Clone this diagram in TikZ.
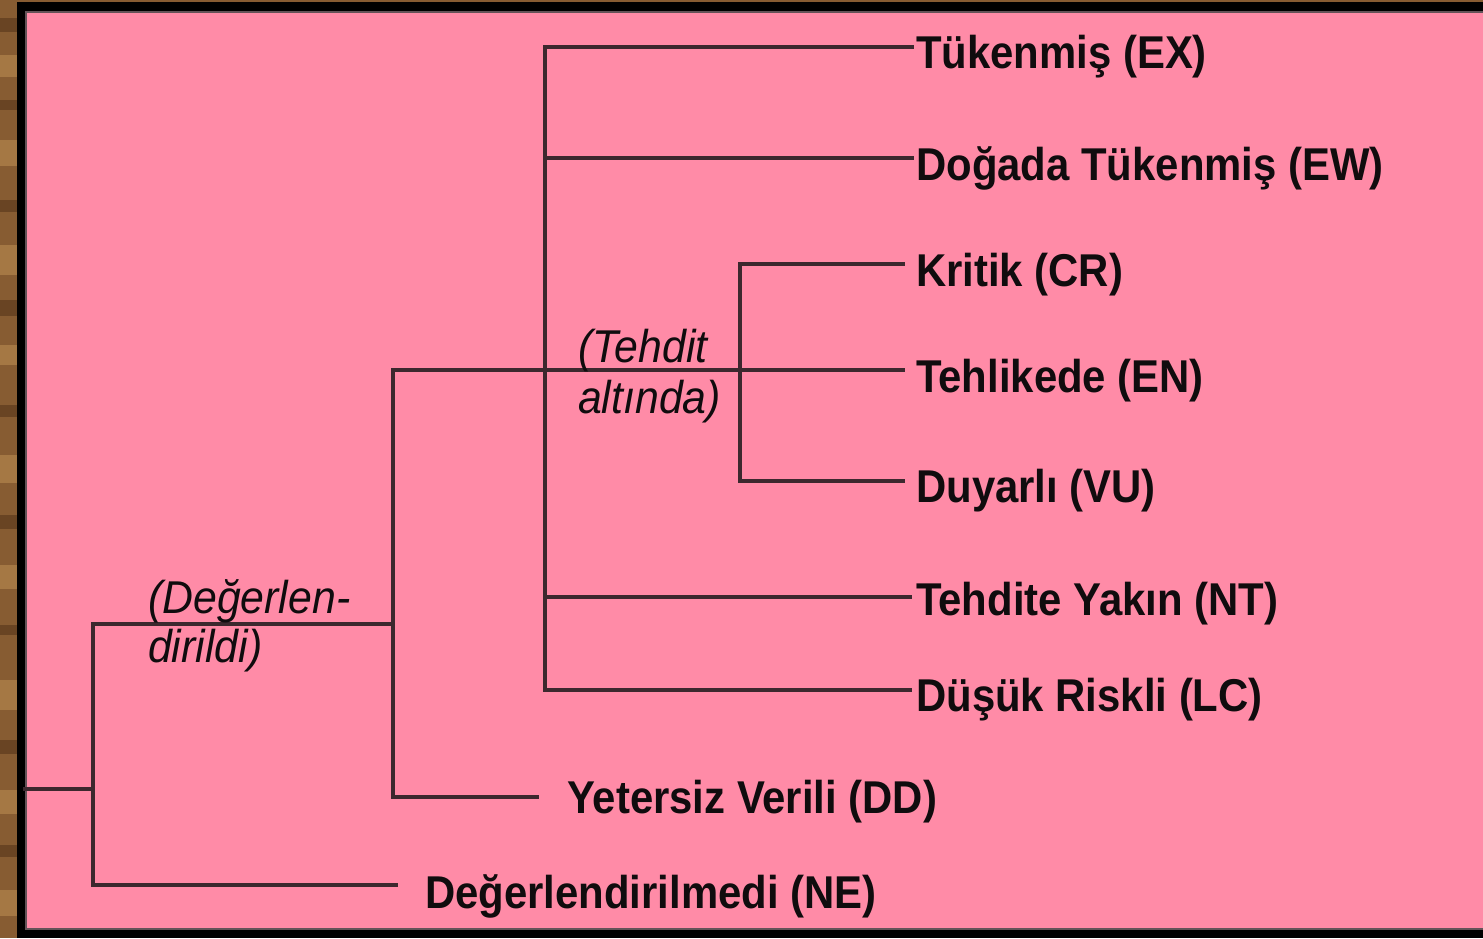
\documentclass[tikz,border=0pt]{standalone}
\usepackage{fontspec}
\newfontfamily\labfont[FakeStretch=0.91]{Liberation Sans}
\newfontfamily\itfont[FakeStretch=0.93]{Liberation Sans}
\definecolor{pinkbg}{RGB}{255,139,167}
\definecolor{linec}{RGB}{60,40,46}
\definecolor{wood}{RGB}{135,92,50}
\definecolor{woodd}{RGB}{105,68,35}
\definecolor{woodl}{RGB}{165,120,68}
\definecolor{txt}{RGB}{16,12,14}
\begin{document}
\begin{tikzpicture}[x=1pt,y=-1pt,
  branch/.style={draw=linec,line width=3.2pt,line cap=rect},
  cat/.style={anchor=base west,inner sep=0pt,text=txt,font=\labfont\bfseries\fontsize{46}{54}\selectfont},
  grp/.style={anchor=base west,inner sep=0pt,text=txt,font=\itfont\itshape\fontsize{46}{54}\selectfont}]
\useasboundingbox (0,0) rectangle (1483,938);
% wood strip
\fill[wood] (0,0) rectangle (17,938);
\foreach \y/\h/\c in {18/14/woodd,55/22/woodl,100/10/woodd,140/26/woodl,200/12/woodd,245/30/woodl,300/16/woodd,345/20/woodl,405/12/woodd,455/28/woodl,515/14/woodd,565/24/woodl,625/10/woodd,680/30/woodl,740/14/woodd,790/24/woodl,845/12/woodd,890/26/woodl}
  \fill[\c] (0,\y) rectangle (17,\y+\h);
\fill[wood] (0,0) rectangle (1483,2);
% black frame
\fill[black] (17,2) rectangle (1483,11);
\fill[black] (17,2) rectangle (25,938);
\fill[black] (17,930) rectangle (1483,938);
% pink panel
\fill[pinkbg] (25,11) rectangle (1483,930);
\draw[linec!80,line width=1.5pt] (25,12) -- (1483,12);
\draw[linec!80,line width=1.5pt] (25,929) -- (1483,929);
\draw[linec!80,line width=1.5pt] (26,12) -- (26,929);

% junction coordinates
\coordinate (r0) at (25,789);
\coordinate (r1) at (93,789);
\coordinate (a1) at (93,624);
\coordinate (a2) at (93,885);
\coordinate (b1) at (393,624);
\coordinate (ne) at (396,885);
\coordinate (b0) at (393,370);
\coordinate (b2) at (393,797);
\coordinate (dd) at (537,797);
\coordinate (c0) at (545,47);
\coordinate (c1) at (545,158);
\coordinate (c2) at (545,370);
\coordinate (c3) at (545,597);
\coordinate (c4) at (545,690);
\coordinate (ex) at (912,47);
\coordinate (ew) at (912,158);
\coordinate (en) at (903,370);
\coordinate (nt) at (910,597);
\coordinate (lc) at (910,690);
\coordinate (d0) at (740,264);
\coordinate (d1) at (740,370);
\coordinate (d2) at (740,481);
\coordinate (cr) at (903,264);
\coordinate (vu) at (903,481);

% branches
\draw[branch] (r0) -- (r1);
\draw[branch] (a1) -- (a2);
\draw[branch] (a1) -- (b1);
\draw[branch] (a2) -- (ne);
\draw[branch] (b0) -- (b2);
\draw[branch] (b2) -- (dd);
\draw[branch] (b0) -- (en);
\draw[branch] (c0) -- (c4);
\draw[branch] (c0) -- (ex);
\draw[branch] (c1) -- (ew);
\draw[branch] (c3) -- (nt);
\draw[branch] (c4) -- (lc);
\draw[branch] (d0) -- (d2);
\draw[branch] (d0) -- (cr);
\draw[branch] (d2) -- (vu);

% labels
\node[cat] (tex) at (916,68) {Tükenmiş (EX)};
\node[cat] (tew) at (916,180) {Doğada Tükenmiş (EW)};
\node[cat] (tcr) at (916,286) {Kritik (CR)};
\node[cat] (ten) at (916,392) {Tehlikede (EN)};
\node[cat] (tvu) at (916,502) {Duyarlı (VU)};
\node[cat] (tnt) at (916,615) {Tehdite Yakın (NT)};
\node[cat] (tlc) at (916,711) {Düşük Riskli (LC)};
\node[cat] (tdd) at (567,813) {Yetersiz Verili (DD)};
\node[cat] (tne) at (425,908) {Değerlendirilmedi (NE)};
\node[grp] (g1a) at (578,362) {(Tehdit};
\node[grp] (g1b) at (578,413) {altında)};
\node[grp] (g2a) at (148,613) {(Değerlen-};
\node[grp] (g2b) at (148,662) {dirildi)};
\end{tikzpicture}
\end{document}
